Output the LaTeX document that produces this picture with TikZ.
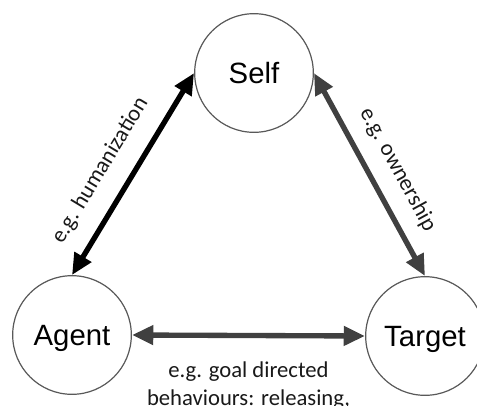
\documentclass[tikz,border=0pt]{standalone}
\usepackage{fontspec}
\setmainfont{Liberation Sans}
\newfontfamily\labelfont{Carlito}
\usetikzlibrary{arrows.meta, positioning}

\begin{document}
\begin{tikzpicture}[x=0.75pt, y=0.75pt,
    cerchio/.style={circle,draw=black!65,line width=0.9pt,fill=white,minimum size=89pt,inner sep=0pt,text depth=0pt,font=\fontsize{22}{26}\selectfont},
    freccia/.style={line width=4pt,{Triangle[length=16pt,width=14pt]}-{Triangle[length=16pt,width=14pt]}},
    etichetta/.style={font=\labelfont\fontsize{17}{21}\selectfont,text=black!90,inner sep=0pt}]
    \useasboundingbox (0,0) rectangle (477,405);
    \clip (0,0) rectangle (477,405);

    % Nodi
    \node[cerchio] (self) at (254,332) {Self};
    \node[cerchio] (agent) at (72,70) {Agent};
    \node[cerchio] (target) at (425,69) {Target};

    % Frecce
    \draw[freccia,black] (agent.north) -- node[etichetta,pos=0.44,sloped,above=13pt] {e.g. humanization} (self.west);
    \draw[freccia,black!75] (self.east) -- node[etichetta,pos=0.54,sloped,above=11pt] {e.g. ownership} (target.north);
    \draw[freccia,black!75] (agent.east) -- node[etichetta,midway,below=18pt,align=center] {e.g. goal directed\\behaviours: releasing,} (target.west);
\end{tikzpicture}
\end{document}
